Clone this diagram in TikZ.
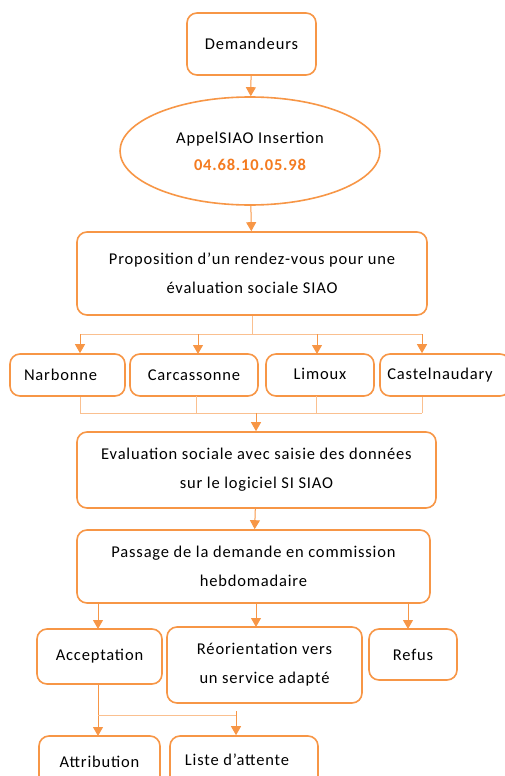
\documentclass[tikz,border=0pt]{standalone}
\usepackage{fontspec}
\setmainfont{Carlito}[LetterSpace=5]
\usetikzlibrary{arrows.meta,shapes.geometric,calc}
\definecolor{org}{HTML}{F79646}
\definecolor{orgl}{HTML}{FAC090}
\definecolor{orgt}{HTML}{F47B20}
\begin{document}
\begin{tikzpicture}[x=1pt,y=-1pt,
  box/.style={draw=org,line width=1.6pt,rounded corners=10pt,fill=white,inner sep=0pt,align=center,font=\fontsize{16.5}{29}\selectfont},
  arr/.style={draw=org,line width=1pt,-{Triangle[width=10pt,length=9pt]}},
  thin/.style={draw=orgl,line width=1pt}]
\useasboundingbox (0,0) rectangle (505,776);
\node[box,minimum width=129pt,minimum height=62pt] (dem) at (251.5,44) {Demandeurs};
\node[box,ellipse,minimum width=260pt,minimum height=108pt] (ell) at (250,151) {AppelSIAO Insertion\\[-2pt]\textcolor{orgt}{\bfseries 04.68.10.05.98}};
\node[box,minimum width=350pt,minimum height=83pt] (prop) at (252,273.5) {Proposition d’un rendez-vous pour une\\évaluation sociale SIAO};
\node[box,minimum width=115pt,minimum height=42pt] (nar) at (67.5,375) {Narbonne\hspace{14pt}};
\node[box,minimum width=128pt,minimum height=42pt] (car) at (194,375) {Carcassonne};
\node[box,minimum width=108pt,minimum height=42pt] (lim) at (320,375) {\raisebox{2pt}{Limoux}};
\node[box,minimum width=130pt,minimum height=42pt] (cas) at (445,375) {Castelnaudary\hspace{10pt}};
\node[box,minimum width=359pt,minimum height=76pt] (eva) at (256.5,470) {Evaluation sociale avec saisie des données\\sur le logiciel SI SIAO};
\node[box,minimum width=353pt,minimum height=73pt] (pas) at (253.5,566.5) {Passage de la demande en commission\\hebdomadaire};
\node[box,minimum width=125pt,minimum height=55pt] (acc) at (99.5,656.5) {Acceptation};
\node[box,minimum width=195pt,minimum height=76pt] (reo) at (264.5,665) {Réorientation vers\\un service adapté};
\node[box,minimum width=88pt,minimum height=51pt] (ref) at (413,654.5) {Refus};
\node[box,minimum width=121pt,minimum height=54pt] (att) at (99.5,763) {\raisebox{3pt}{Attribution}};
\node[box,minimum width=148pt,minimum height=54pt] (lis) at (244,763) {\raisebox{6pt}{Liste d’attente}\hspace{14pt}};
% connectors
\draw[arr] (dem) -- (ell);
\draw[arr] (ell) -- (prop);
\coordinate (h1) at (252,334);
\coordinate (h1l) at (80,334);
\coordinate (h1r) at (422,334);
\draw[thin] (prop.south) -- (h1);
\draw[thin] (h1l) -- (h1r);
\draw[arr] (h1l) -- (h1l |- nar.north);
\draw[arr] (198,334) -- (198,354);
\draw[arr] (317,334) -- (317,354);
\draw[arr] (h1r) -- (h1r |- cas.north);
\coordinate (h2l) at (80,413);
\coordinate (h2r) at (422,413);
\coordinate (h2) at (256,413);
\draw[thin] (h2l |- nar.south) -- (h2l);
\draw[thin] (196,396) -- (196,413);
\draw[thin] (316,396) -- (316,413);
\draw[thin] (h2r |- cas.south) -- (h2r);
\draw[thin] (h2l) -- (h2r);
\draw[arr] (h2) -- (h2 |- eva.north);
\draw[arr] (eva) -- (pas);
\draw[arr] (98,603) -- (98,629);
\draw[arr] (256,603) -- (256,627);
\draw[arr] (408,603) -- (408,629);
\coordinate (h3) at (236,715);
\draw[arr] (acc.south -| 98,0) -- (98,736);
\draw[thin] (98,715) -- (h3);
\draw[arr] (236,711) -- (lis.north -| h3);
\end{tikzpicture}
\end{document}
